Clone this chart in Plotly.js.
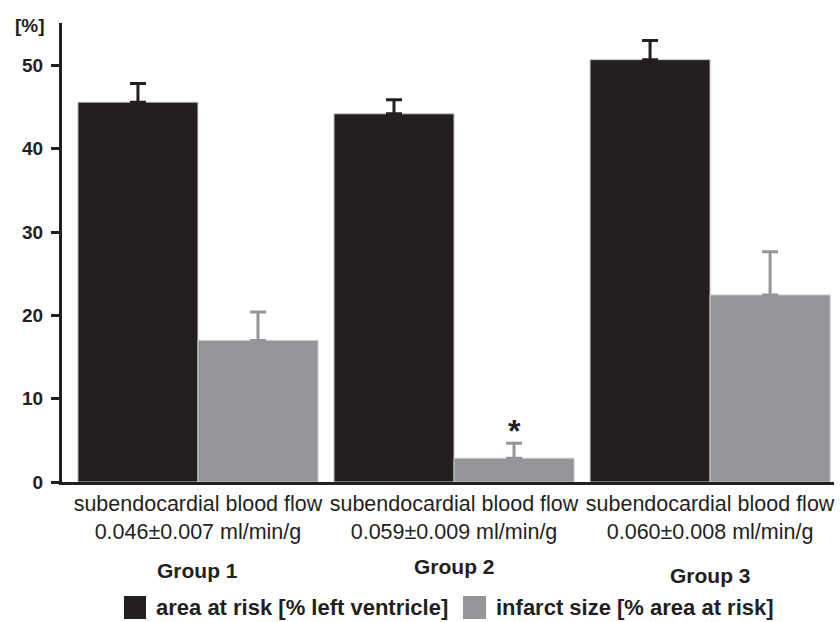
<!DOCTYPE html>
<html>
<head>
<meta charset="utf-8">
<script src="https://cdn.plot.ly/plotly-3.0.1.min.js"></script>
<style>
html,body{margin:0;padding:0;background:#fff;}
#chart{width:840px;height:622px;}
</style>
</head>
<body>
<div id="chart"></div>
<script>
// ---- data ----
const groups = ["Group 1", "Group 2", "Group 3"];
const flowTitle = "subendocardial blood flow";
const flowLabels = ["0.046±0.007 ml/min/g", "0.059±0.009 ml/min/g", "0.060±0.008 ml/min/g"];
const seriesNames = ["area at risk [% left ventricle]", "infarct size [% area at risk]"];
const areaAtRisk = [45.6, 44.2, 50.7];
const areaAtRiskErr = [2.25, 1.7, 2.3];
const infarctSize = [17.0, 2.85, 22.45];
const infarctSizeErr = [3.4, 1.8, 5.2];
const significance = ["", "*", ""];
const yTickVals = [0, 10, 20, 30, 40, 50];
const yUnit = "[%]";

// ---- style ----
const DARK = "#231f20";
const GRAY = "#939598";
const BARGAP = 0.0625;
const groupLabelShift = [-88, -84, -93];

const ticktext = flowLabels.map(f => flowTitle + "<br>" + f);

const traces = [
  {
    type: "bar", name: seriesNames[0], x: groups, y: areaAtRisk,
    marker: {color: DARK, line: {color: "#c8c8c8", width: 1}},
    error_y: {type: "data", array: areaAtRiskErr, arrayminus: areaAtRisk.map(() => 0),
              symmetric: false, color: DARK, thickness: 3, width: 8},
    showlegend: false, hoverinfo: "y"
  },
  {
    type: "bar", name: seriesNames[1], x: groups, y: infarctSize,
    marker: {color: GRAY, line: {color: "#c8c8c8", width: 1}},
    error_y: {type: "data", array: infarctSizeErr, arrayminus: infarctSize.map(() => 0),
              symmetric: false, color: GRAY, thickness: 3, width: 8},
    showlegend: false, hoverinfo: "y"
  }
];

const annotations = [];
// y unit label
annotations.push({
  text: "<b>" + yUnit + "</b>", xref: "paper", yref: "paper", x: 0, y: 1,
  xanchor: "right", yanchor: "middle", xshift: -15, yshift: -2, showarrow: false,
  font: {family: "Liberation Sans, Arial, sans-serif", size: 19, color: DARK}
});
// group labels
groups.forEach((g, i) => {
  annotations.push({
    text: "<b>" + g + "</b>", xref: "x", yref: "paper", x: g, y: 0,
    xanchor: "center", yanchor: "middle", yshift: groupLabelShift[i], showarrow: false,
    font: {family: "Liberation Sans, Arial, sans-serif", size: 21, color: DARK}
  });
});
// significance marks over the infarct-size bars
const barOffset = (1 - BARGAP) / 4;
significance.forEach((s, i) => {
  if (!s) return;
  annotations.push({
    text: "<b>" + s + "</b>", xref: "x", yref: "y", x: i + barOffset,
    y: infarctSize[i] + infarctSizeErr[i], xanchor: "center", yanchor: "bottom",
    yshift: -8, showarrow: false,
    font: {family: "Liberation Sans, Arial, sans-serif", size: 32, color: DARK}
  });
});

// custom legend (large square swatches)
const legendItems = [
  {name: seriesNames[0], color: DARK, x0: 0.0803, x1: 0.1088, tx: 0.1195},
  {name: seriesNames[1], color: GRAY, x0: 0.5194, x1: 0.5492, tx: 0.5600}
];
const shapes = [];
legendItems.forEach(it => {
  shapes.push({type: "rect", xref: "paper", yref: "paper", x0: it.x0, x1: it.x1,
               y0: -0.2484, y1: -0.2985, fillcolor: it.color, line: {width: 0}});
  annotations.push({
    text: "<b>" + it.name + "</b>", xref: "paper", yref: "paper", x: it.tx, y: -0.2735,
    xanchor: "left", yanchor: "middle", showarrow: false,
    font: {family: "Liberation Sans, Arial, sans-serif", size: 22, color: DARK}
  });
});

const layout = {
  width: 840, height: 622,
  margin: {l: 62, r: 6, t: 23, b: 140},
  paper_bgcolor: "#fff", plot_bgcolor: "#fff",
  barmode: "group", bargap: BARGAP, bargroupgap: 0,
  showlegend: false,
  xaxis: {
    type: "category", range: [-0.531, 2.484],
    tickvals: groups, ticktext: ticktext, ticks: "", tickangle: 0,
    showline: true, linewidth: 3, linecolor: DARK,
    showgrid: false, zeroline: false, ticklabelstandoff: 0,
    tickfont: {family: "Liberation Sans, Arial, sans-serif", size: 21.5, color: DARK}
  },
  yaxis: {
    range: [0, 55.1], tickvals: yTickVals,
    ticks: "outside", ticklen: 8, tickwidth: 3, tickcolor: DARK,
    showline: true, linewidth: 3, linecolor: DARK,
    showgrid: false, zeroline: false, ticklabelstandoff: 4,
    tickfont: {family: "Liberation Sans, Arial, sans-serif", size: 19, color: DARK, weight: "bold"}
  },
  annotations: annotations,
  shapes: shapes
};

Plotly.newPlot("chart", traces, layout, {displayModeBar: false, staticPlot: true});
</script>
</body>
</html>
